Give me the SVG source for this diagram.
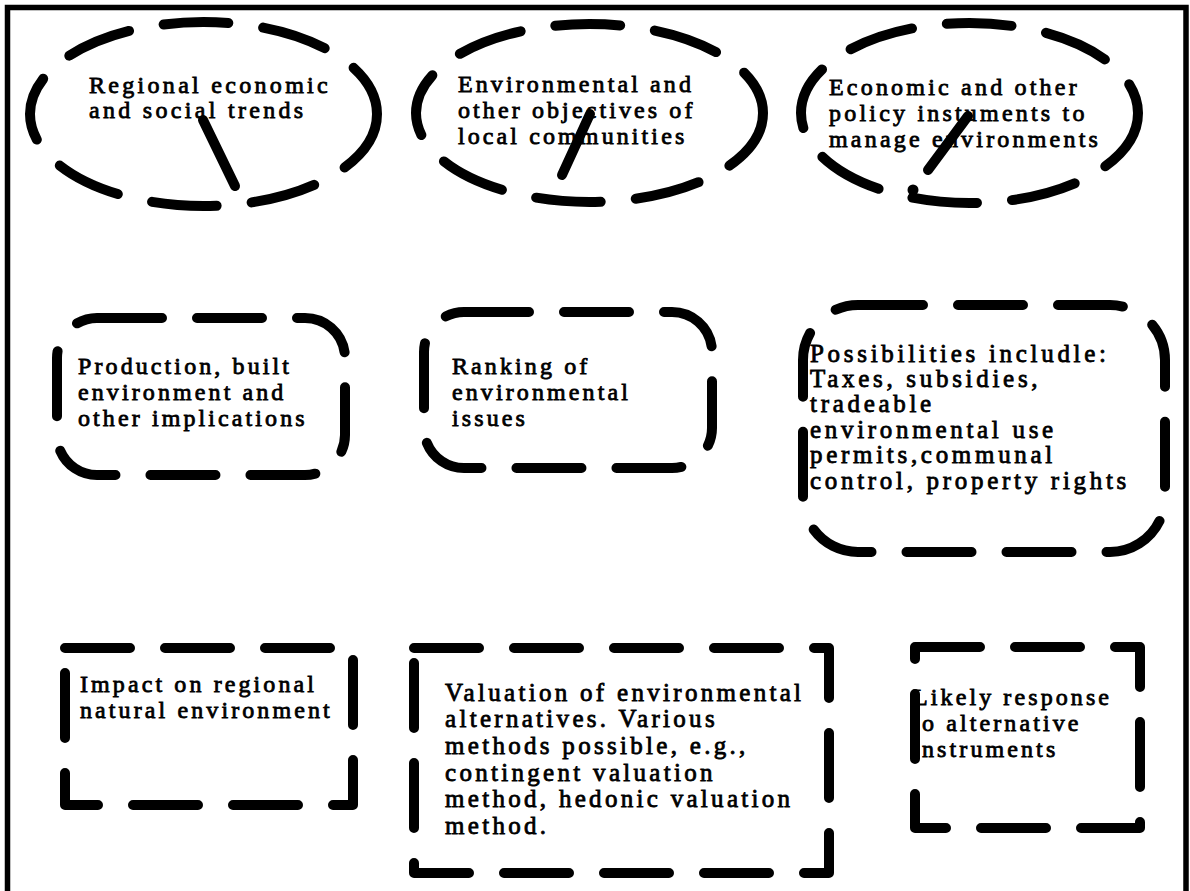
<svg xmlns="http://www.w3.org/2000/svg" width="1190" height="891" viewBox="0 0 1190 891">
<style>
.sh{fill:none;stroke:#000;stroke-width:10;stroke-linecap:round;stroke-linejoin:round;stroke-dasharray:65 35}
.cn{fill:none;stroke:#000;stroke-width:10;stroke-linecap:round}
text{font-family:"Liberation Serif","Times New Roman",serif;font-size:24px;letter-spacing:3.1px;fill:#000;stroke:#000;stroke-width:0.8px}
.big{font-size:25px;letter-spacing:3.3px}
.bigc{font-size:25px;letter-spacing:3.7px}
</style>
<rect x="0" y="0" width="1190" height="891" fill="#fff"/>
<rect x="7.5" y="7.5" width="1178.5" height="920" fill="none" stroke="#000" stroke-width="5.5"/>
<g id="n1">
<ellipse class="sh" cx="203.5" cy="114" rx="173.5" ry="92"/>
<text x="89" y="93" style="letter-spacing:3.3px">Regional economic</text>
<text x="89" y="118" style="letter-spacing:3.3px">and social trends</text>
</g>
<g id="n2">
<ellipse class="sh" cx="589.5" cy="113" rx="173.5" ry="89"/>
<text x="458" y="92">Environmental and</text>
<text x="458" y="118">other objectives of</text>
<text x="458" y="144">local communities</text>
</g>
<g id="n3">
<ellipse class="sh" cx="969.5" cy="113" rx="168.5" ry="90"/>
<text x="829" y="95" style="letter-spacing:3.2px">Economic and other</text>
<text x="829" y="121" style="letter-spacing:3.2px">policy instuments to</text>
<text x="829" y="147" style="letter-spacing:3.2px">manage environments</text>
</g>
<g id="nA">
<rect class="sh" x="57" y="318" width="288" height="157" rx="40"/>
<text x="78" y="374">Production, built</text>
<text x="78" y="400">environment and</text>
<text x="78" y="426">other implications</text>
</g>
<g id="nB">
<rect class="sh" x="424" y="312" width="288" height="156" rx="40"/>
<text x="452" y="374">Ranking of</text>
<text x="452" y="400">environmental</text>
<text x="452" y="426">issues</text>
</g>
<g id="nC">
<rect class="sh" x="803" y="305" width="362" height="247" rx="55"/>
<text class="bigc" x="810" y="362">Possibilities includle:</text>
<text class="bigc" x="810" y="387">Taxes, subsidies,</text>
<text class="bigc" x="810" y="412">tradeable</text>
<text class="bigc" x="810" y="438">environmental use</text>
<text class="bigc" x="810" y="463">permits,communal</text>
<text class="bigc" x="810" y="489">control, property rights</text>
</g>
<g id="nD">
<rect class="sh" x="65" y="648" width="288" height="157"/>
<text x="80" y="692">Impact on regional</text>
<text x="80" y="718">natural environment</text>
</g>
<g id="nE">
<rect class="sh" x="414" y="648" width="415" height="225"/>
<text class="big" x="445" y="701">Valuation of environmental</text>
<text class="big" x="445" y="727">alternatives. Various</text>
<text class="big" x="445" y="754">methods possible, e.g.,</text>
<text class="big" x="445" y="781">contingent valuation</text>
<text class="big" x="445" y="807">method, hedonic valuation</text>
<text class="big" x="445" y="834">method.</text>
</g>
<g id="nF">
<rect class="sh" x="915" y="647" width="225" height="181"/>
<text x="913" y="705">Likely response</text>
<text x="922" y="731">o alternative</text>
<text x="922" y="757">nstruments</text>
</g>
<g id="connectors">
<line class="cn" x1="203" y1="120" x2="235" y2="186"/>
<line class="cn" x1="590" y1="114" x2="562" y2="175"/>
<line class="cn" x1="968" y1="116" x2="928" y2="170"/>
<circle cx="913" cy="190" r="5.5" fill="#000"/>
</g>
</svg>
